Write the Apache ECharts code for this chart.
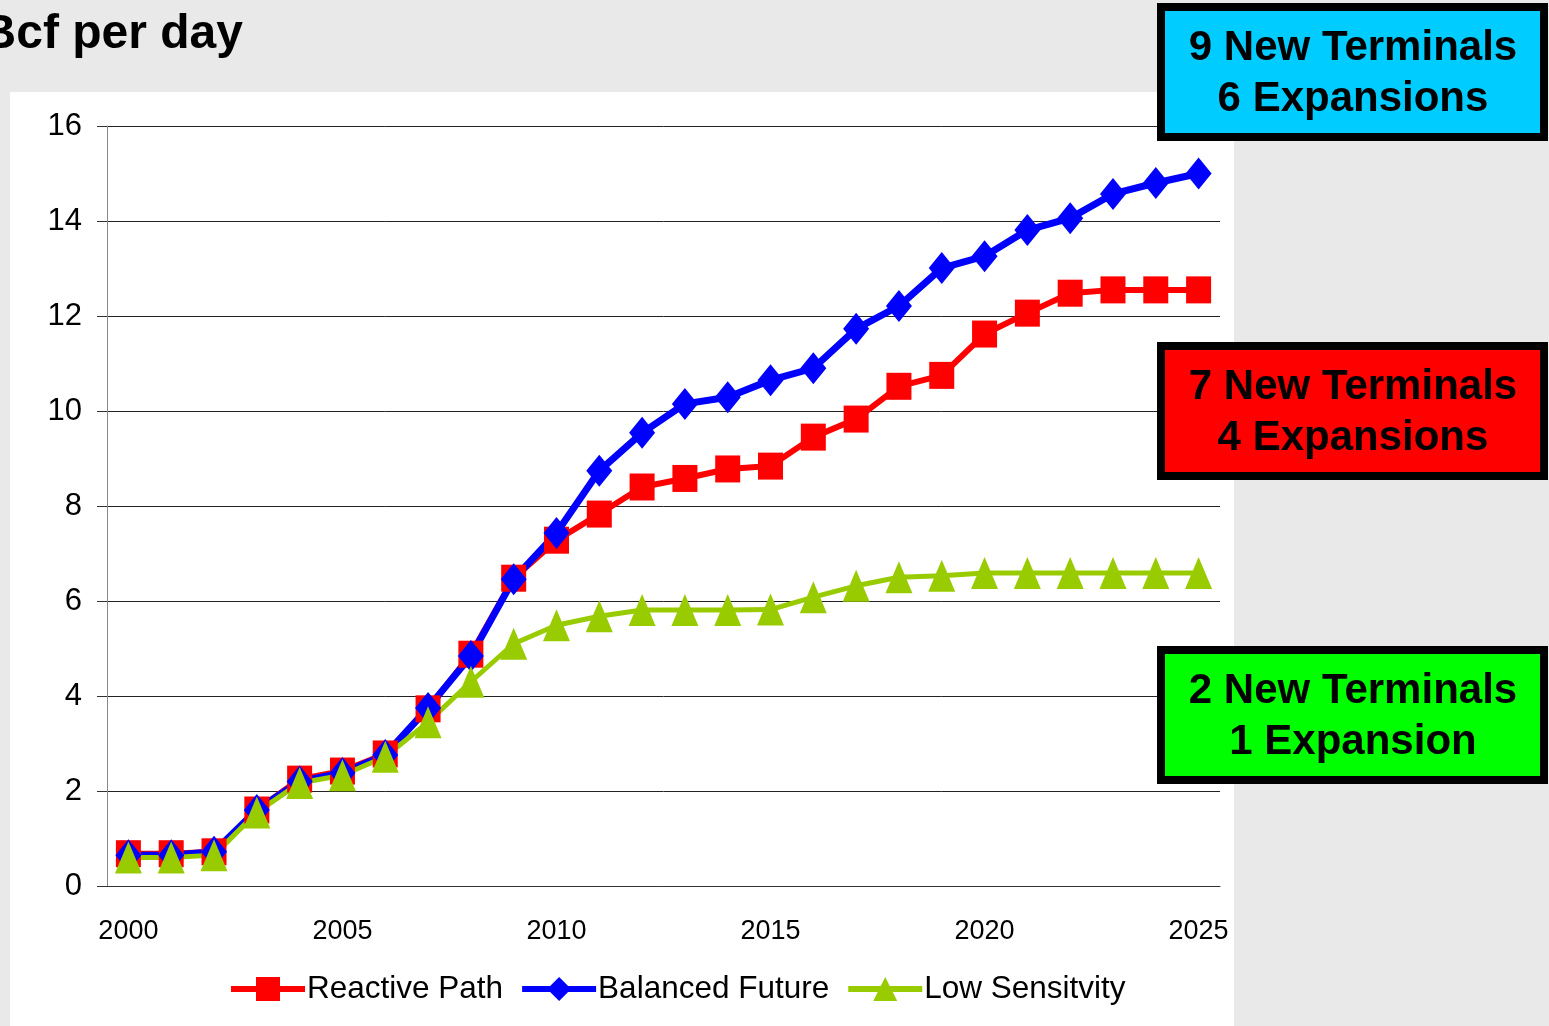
<!DOCTYPE html>
<html>
<head>
<meta charset="utf-8">
<title>LNG import capacity scenarios</title>
<script src="https://cdn.jsdelivr.net/npm/echarts@6/dist/echarts.min.js"></script>
<style>
  html, body { margin: 0; padding: 0; background: #e9e9e9; }
  #chart { width: 1549px; height: 1026px; }
</style>
</head>
<body>
<div id="chart"></div>
<script>
// Years on the horizontal axis
const years = ['2000','2001','2002','2003','2004','2005','2006','2007','2008','2009',
  '2010','2011','2012','2013','2014','2015','2016','2017','2018','2019',
  '2020','2021','2022','2023','2024','2025'];

// Import capacity, Bcf per day, by scenario
const reactivePath = [0.68, 0.68, 0.72, 1.6, 2.25, 2.42, 2.78, 3.73, 4.88, 6.48,
  7.28, 7.83, 8.4, 8.58, 8.78, 8.84, 9.45, 9.83, 10.52, 10.75,
  11.62, 12.06, 12.48, 12.55, 12.55, 12.55];
const balancedFuture = [0.65, 0.65, 0.72, 1.6, 2.2, 2.38, 2.76, 3.75, 4.84, 6.46,
  7.43, 8.74, 9.54, 10.15, 10.29, 10.65, 10.9, 11.73, 12.21, 13.01,
  13.26, 13.81, 14.06, 14.57, 14.8, 15.0];
const lowSensitivity = [0.6, 0.6, 0.65, 1.55, 2.17, 2.33, 2.72, 3.45, 4.3, 5.1,
  5.49, 5.68, 5.81, 5.81, 5.81, 5.82, 6.08, 6.32, 6.5, 6.53,
  6.59, 6.59, 6.59, 6.59, 6.59, 6.59];

// Scenario call-out boxes
const boxLines = [
  ['9 New Terminals', '6 Expansions'],
  ['7 New Terminals', '4 Expansions'],
  ['2 New Terminals', '1 Expansion']
];
const boxColors = ['#00ccff', '#ff0000', '#00ff00'];

const SANS = "'Liberation Sans', Arial, sans-serif";

const chart = echarts.init(document.getElementById('chart'), null, { renderer: 'canvas' });

function calloutBox(top, lines, color) {
  return {
    type: 'group',
    z: 100,
    children: [
      {
        type: 'rect',
        shape: { x: 1161, y: top + 4, width: 383, height: 130 },
        style: { fill: color, stroke: '#000', lineWidth: 8 },
        z: 100
      },
      {
        type: 'text',
        x: 1353, y: top + 45,
        style: { text: lines[0], font: 'bold 42px ' + SANS, fill: '#000', align: 'center', verticalAlign: 'middle' },
        z: 101
      },
      {
        type: 'text',
        x: 1353, y: top + 96,
        style: { text: lines[1], font: 'bold 42px ' + SANS, fill: '#000', align: 'center', verticalAlign: 'middle' },
        z: 101
      }
    ]
  };
}

const option = {
  backgroundColor: '#e9e9e9',
  animation: false,
  graphic: [
    {
      type: 'rect',
      z: -10,
      silent: true,
      shape: { x: 10, y: 92, width: 1224, height: 940 },
      style: { fill: '#ffffff' }
    },
    {
      type: 'text',
      z: 10,
      x: 243, y: 35,
      style: { text: 'Bcf per day', font: 'bold 48px ' + SANS, fill: '#000', align: 'right', verticalAlign: 'middle' }
    },
    calloutBox(3, boxLines[0], boxColors[0]),
    calloutBox(342, boxLines[1], boxColors[1]),
    calloutBox(646, boxLines[2], boxColors[2])
  ],
  grid: { left: 107, right: 329, top: 126, bottom: 140, containLabel: false },
  legend: {
    left: 228,
    top: 973,
    padding: 0,
    itemWidth: 74,
    itemHeight: 30,
    itemGap: 16,
    lineStyle: { width: 6 },
    textStyle: { fontFamily: SANS, fontSize: 31.5, color: '#000', padding: [0, 0, 0, -3] },
    data: ['Reactive Path', 'Balanced Future', 'Low Sensitvity']
  },
  xAxis: {
    type: 'category',
    data: years,
    boundaryGap: true,
    axisLine: { lineStyle: { color: '#333', width: 1 } },
    axisTick: { interval: 4, length: 10, lineStyle: { color: '#333' } },
    axisLabel: { interval: 4, fontFamily: SANS, fontSize: 27, color: '#000', margin: 32 },
    splitLine: { show: false }
  },
  yAxis: {
    type: 'value',
    min: 0, max: 16, interval: 2,
    axisLine: { show: true, lineStyle: { color: '#888', width: 1 } },
    axisTick: { show: true, length: 10, lineStyle: { color: '#333' } },
    axisLabel: { fontFamily: SANS, fontSize: 31, color: '#000', margin: 25 },
    splitLine: { lineStyle: { color: '#222', width: 1 } }
  },
  series: [
    {
      name: 'Reactive Path',
      type: 'line',
      data: reactivePath,
      symbol: 'rect',
      symbolSize: [25, 27],
      showAllSymbol: true,
      lineStyle: { color: '#ff0000', width: 6 },
      itemStyle: { color: '#ff0000' }
    },
    {
      name: 'Balanced Future',
      type: 'line',
      data: balancedFuture,
      symbol: 'diamond',
      symbolSize: [26, 32],
      showAllSymbol: true,
      lineStyle: { color: '#0000ff', width: 7 },
      itemStyle: { color: '#0000ff' }
    },
    {
      name: 'Low Sensitvity',
      type: 'line',
      data: lowSensitivity,
      symbol: 'triangle',
      symbolSize: [27, 32],
      showAllSymbol: true,
      lineStyle: { color: '#99cc00', width: 5 },
      itemStyle: { color: '#99cc00' }
    }
  ]
};

chart.setOption(option);
</script>
</body>
</html>
